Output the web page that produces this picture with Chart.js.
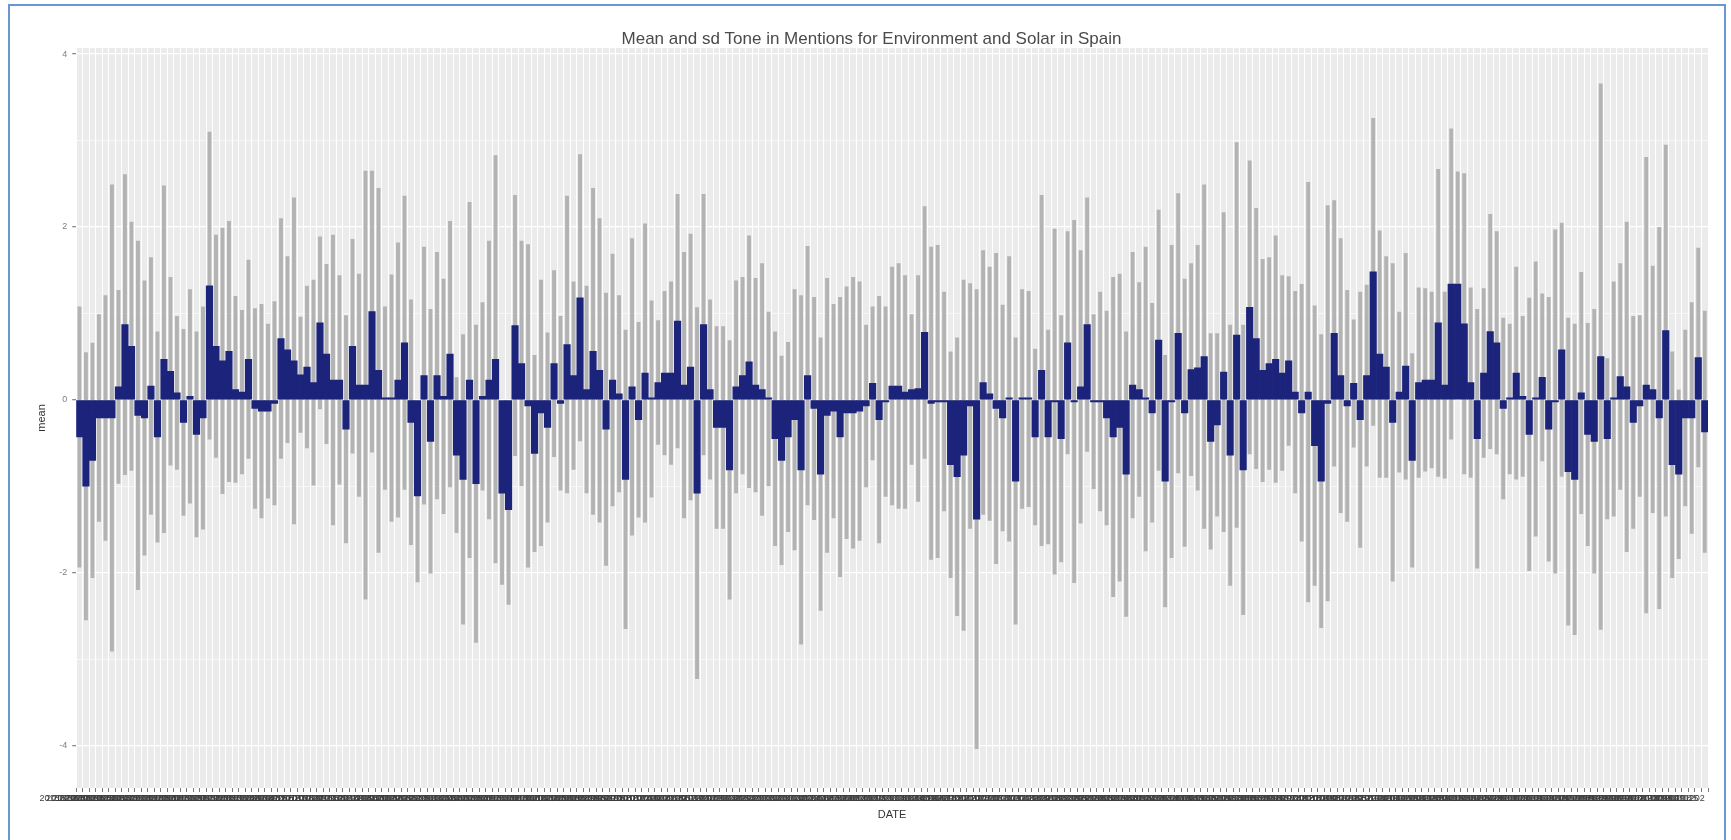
<!DOCTYPE html>
<html>
<head>
<meta charset="utf-8">
<script src="https://cdn.jsdelivr.net/npm/chart.js@4.4.0/dist/chart.umd.min.js"></script>
<style>
  html, body { margin: 0; padding: 0; background: #fff; overflow: hidden; }
  #wrap { position: relative; width: 1731px; height: 840px; }
  #chart { position: absolute; left: 0; top: 0; background: #fff; }
  #frame { position: absolute; left: 8px; top: 4px; width: 1718px; height: 850px; border: 2px solid #6a96d4; box-sizing: border-box; pointer-events: none; }
</style>
</head>
<body>
<div id="wrap">
  <canvas id="chart" width="1731" height="840"></canvas>
  <div id="frame"></div>
</div>
<script>
// mean tone per period (navy bars)
const meanTone = [
  -0.43,-1.00,-0.70,-0.21,-0.21,-0.21,0.15,0.87,0.62,-0.18,-0.21,0.16,-0.43,0.47,0.33,0.08,-0.26,0.04,-0.40,-0.21,
  1.32,0.62,0.45,0.56,0.12,0.09,0.47,-0.10,-0.13,-0.13,-0.04,0.71,0.58,0.45,0.29,0.38,0.20,0.89,0.53,0.23,
  0.23,-0.34,0.62,0.17,0.17,1.02,0.34,0.02,0.02,
  0.23,0.66,-0.26,-1.11,0.28,-0.48,0.28,0.04,0.53,-0.64,-0.92,0.23,-0.97,0.04,0.23,0.47,-1.08,-1.27,0.86,0.42,
  -0.07,-0.62,-0.15,-0.32,0.42,-0.04,0.64,0.28,1.18,0.12,0.56,0.34,-0.34,0.23,0.07,-0.92,0.15,-0.23,0.31,0.01,
  0.20,0.31,0.31,0.91,0.17,0.38,-1.08,0.87,0.12,-0.32,-0.32,
  -0.81,0.15,0.28,0.44,0.17,0.12,0.01,-0.45,-0.70,-0.43,-0.23,-0.81,0.28,-0.10,-0.86,-0.18,-0.13,-0.43,-0.15,-0.15,
  -0.13,-0.07,0.19,-0.23,-0.02,0.16,0.16,0.09,0.12,0.13,0.78,-0.04,-0.02,-0.02,-0.75,-0.89,-0.64,-0.07,-1.38,0.20,
  0.07,-0.10,-0.21,0.01,-0.94,0.01,0.01,-0.43,0.34,-0.43,-0.02,
  -0.45,0.66,-0.02,0.15,0.87,-0.02,-0.02,-0.21,-0.43,-0.32,-0.86,0.17,0.12,0.01,-0.15,0.69,-0.94,-0.02,0.77,-0.15,
  0.35,0.37,0.50,-0.48,-0.29,0.32,-0.64,0.75,-0.81,1.07,0.71,0.34,0.42,0.47,0.31,0.45,0.09,-0.15,0.09,-0.53,
  -0.94,-0.04,0.77,0.28,-0.07,0.19,-0.23,0.28,1.48,0.53,0.38,
  -0.26,0.09,0.39,-0.70,0.20,0.23,0.23,0.89,0.17,1.34,1.34,0.88,0.20,-0.45,0.31,0.79,0.66,-0.10,0.01,0.31,
  0.04,-0.40,0.01,0.26,-0.34,-0.02,0.58,-0.83,-0.92,0.08,-0.40,-0.48,0.50,-0.45,0.01,0.27,0.15,-0.26,-0.07,0.17,
  0.12,-0.21,0.80,-0.75,-0.86,-0.21,-0.21,0.49,-0.37
];

// standard deviation of tone per period (grey range = mean +/- sd)
const sdTone = [
  1.51,1.55,1.36,1.20,1.42,2.70,1.12,1.74,1.44,2.02,1.59,1.49,1.22,2.01,1.09,0.89,1.08,1.24,1.19,1.29,
  1.78,1.29,1.54,1.51,1.08,0.95,1.15,1.16,1.24,1.01,1.18,1.39,1.08,1.89,0.67,0.94,1.19,1.00,1.04,1.68,
  1.21,1.32,1.24,1.29,2.48,1.63,2.11,1.06,1.43,
  1.59,1.70,1.42,1.00,1.49,1.53,1.43,1.36,1.54,0.90,1.68,2.06,1.84,1.09,1.61,2.36,1.06,1.10,1.51,1.42,
  1.87,1.14,1.54,1.10,1.08,1.01,1.72,1.09,1.66,1.20,1.89,1.76,1.58,1.46,1.14,1.73,1.72,1.13,1.73,1.14,
  0.72,0.95,1.06,1.47,1.54,1.54,2.15,1.51,1.04,1.17,1.17,
  1.50,1.23,1.14,1.46,1.24,1.46,1.01,1.24,1.21,1.10,1.51,2.02,1.50,1.29,1.58,1.59,1.24,1.62,1.46,1.57,
  1.50,0.94,0.89,1.43,1.10,1.38,1.42,1.35,0.87,1.31,1.46,1.81,1.81,1.27,1.31,1.61,2.03,1.42,2.66,1.53,
  1.47,1.80,1.31,1.65,1.66,1.27,1.25,1.02,2.03,1.24,2.00,
  1.43,1.29,2.10,1.58,1.47,1.01,1.27,1.24,1.85,1.78,1.65,1.54,1.24,1.76,1.27,1.51,1.46,1.81,1.62,1.55,
  1.23,1.42,1.99,1.25,1.06,1.85,1.51,2.23,1.68,1.70,1.51,1.29,1.23,1.43,1.13,0.98,1.17,1.49,2.43,1.62,
  1.70,2.29,1.54,1.59,1.34,0.74,1.48,1.05,1.78,1.43,1.28,
  1.84,0.93,1.31,1.24,1.10,1.06,1.02,1.78,1.08,1.80,1.30,1.74,1.10,1.50,0.98,1.36,1.29,1.05,0.87,1.23,
  0.93,1.58,1.59,0.97,1.53,1.99,1.47,1.78,1.80,1.40,1.29,1.53,3.16,0.93,1.36,1.31,1.91,1.23,1.05,2.64,
  1.43,2.21,2.15,1.31,0.98,1.02,1.34,1.27,1.40
];

const yTickLabels = [-4, -2, 0, 2, 4];

// DATE categories (weekly, YYYYMMDD like the source data)
const dateLabels = [];
const firstDate = new Date(Date.UTC(2015, 1, 16));
for (let i = 0; i < meanTone.length; i++) {
  const d = new Date(firstDate.getTime() + i * 7 * 86400000);
  dateLabels.push(`${d.getUTCFullYear()}${String(d.getUTCMonth() + 1).padStart(2, '0')}${String(d.getUTCDate()).padStart(2, '0')}`);
}

const sdRange = meanTone.map((m, i) => [m - sdTone[i], m + sdTone[i]]);

// grey panel like ggplot's theme
const panelBg = {
  id: 'panelBg',
  beforeDraw(chart) {
    const a = chart.chartArea;
    const ctx = chart.ctx;
    ctx.save();
    ctx.fillStyle = '#ebebeb';
    ctx.fillRect(a.left, a.top, a.right - a.left, a.bottom - a.top);
    ctx.restore();
  }
};

const isMajor = v => yTickLabels.includes(v);

new Chart(document.getElementById('chart'), {
  type: 'bar',
  data: {
    labels: dateLabels,
    datasets: [
      {
        label: 'mean',
        data: meanTone,
        backgroundColor: '#1b237a',
        barPercentage: 1.0,
        categoryPercentage: 1.0,
        minBarLength: 2,
        grouped: false,
        order: 1
      },
      {
        label: 'sd',
        data: sdRange,
        backgroundColor: '#b3b3b3',
        barPercentage: 0.6,
        categoryPercentage: 1.0,
        grouped: false,
        order: 2
      }
    ]
  },
  options: {
    responsive: false,
    animation: false,
    devicePixelRatio: 1,
    layout: { padding: { top: 27, left: 35, right: 23, bottom: 18 } },
    plugins: {
      legend: { display: false },
      tooltip: { enabled: false },
      title: {
        display: true,
        text: 'Mean and sd Tone in Mentions for Environment and Solar in Spain',
        color: '#4a4a4a',
        font: { family: 'Liberation Sans, Arial, sans-serif', size: 17, weight: 'normal', lineHeight: 1.0 },
        padding: { top: 4, bottom: 0 }
      }
    },
    scales: {
      x: {
        border: { display: false },
        grid: { color: '#ffffff', lineWidth: 1, tickColor: '#7a7a7a', tickLength: 4 },
        ticks: {
          autoSkip: false,
          maxRotation: 0,
          minRotation: 0,
          align: 'end',
          padding: 1,
          color: '#3d3d3d',
          font: { family: 'Liberation Sans, Arial, sans-serif', size: 9 }
        },
        title: {
          display: true,
          text: 'DATE',
          color: '#333',
          font: { family: 'Liberation Sans, Arial, sans-serif', size: 11 },
          padding: { top: 4, bottom: 0 }
        }
      },
      y: {
        min: -4.49,
        max: 4.07,
        border: { display: false },
        grid: {
          color: '#ffffff',
          lineWidth: ctx => (ctx.tick && isMajor(ctx.tick.value)) ? 1.3 : 0.6,
          tickColor: ctx => (ctx.tick && isMajor(ctx.tick.value)) ? '#8a8a8a' : 'rgba(0,0,0,0)',
          tickLength: 4
        },
        ticks: {
          stepSize: 1,
          includeBounds: false,
          padding: 5,
          color: '#7f7f7f',
          font: { family: 'Liberation Sans, Arial, sans-serif', size: 9 },
          callback: v => isMajor(v) ? String(v) : ''
        },
        title: {
          display: true,
          text: 'mean',
          color: '#333',
          font: { family: 'Liberation Sans, Arial, sans-serif', size: 11 },
          padding: { top: 0, bottom: 6 }
        }
      }
    }
  },
  plugins: [panelBg]
});
</script>
</body>
</html>
